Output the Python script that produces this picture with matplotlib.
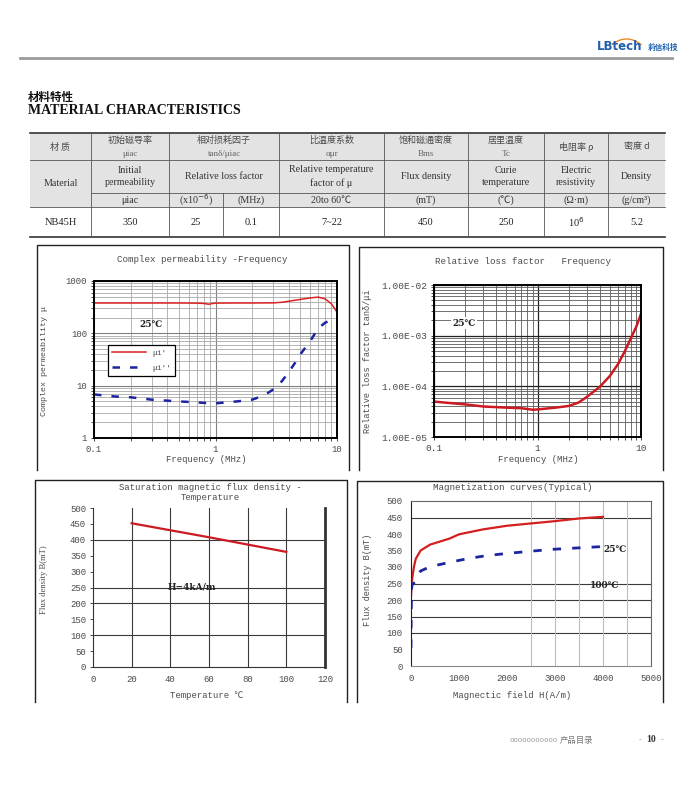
import matplotlib
matplotlib.use('Agg')
import matplotlib.pyplot as plt
from matplotlib.ticker import FixedLocator, FixedFormatter, NullFormatter, LogLocator
from matplotlib.lines import Line2D
import numpy as np

plt.rcParams['font.family'] = ['Liberation Serif', 'Noto Sans CJK SC', 'DejaVu Sans']

# ---------------- data ----------------
# table
table_cn = ['材 质', '初始磁导率', '相对损耗因子', '比温度系数', '饱和磁通密度', '居里温度', '电阻率 ρ', '密度 d']
table_sym = ['', 'μiac', 'tanδ/μiac', 'αμr', 'Bms', 'Tc', '', '']
table_en = ['Material', 'Initial\npermeability', 'Relative loss factor', 'Relative temperature\nfactor of μ',
            'Flux density', 'Curie\ntemperature', 'Electric\nresistivity', 'Density']
table_units = ['μiac', r'(x10$^{-6}$)', '(MHz)', '20to 60℃', '(mT)', '(℃)', '(Ω·m)', '(g/cm³)']
table_values = ['NB45H', '350', '25', '0.1', '7~22', '450', '250', r'10$^{6}$', '5.2']

# chart 1: complex permeability vs frequency
mu_real_freq = [0.1, 0.2, 0.3, 0.5, 0.7, 0.8, 0.88, 0.95, 1.0, 1.5, 2, 3, 3.5, 4, 5, 6, 7, 8, 9, 10]
mu_real = [380, 380, 380, 380, 378, 372, 360, 372, 378, 380, 380, 382, 392, 410, 445, 475, 492, 455, 365, 255]
mu_imag_freq = [0.1, 0.15, 0.2, 0.3, 0.5, 0.7, 0.9, 1.0, 1.5, 2.0, 2.5, 3.0, 3.5, 4, 4.5, 5, 6, 7, 8, 9, 10]
mu_imag = [6.8, 6.2, 6.0, 5.4, 5.0, 4.8, 4.6, 4.6, 5.0, 5.4, 6.5, 8.5, 12, 18, 27, 40, 70, 125, 160, 180, 185]
c1_yticks = [1, 10, 100, 1000]
c1_ylabels = ['1', '10', '100', '1000']
c1_xticks = [0.1, 1, 10]
c1_xlabels = ['0.1', '1', '10']

# chart 2: relative loss factor vs frequency
loss_freq = [0.1, 0.2, 0.3, 0.5, 0.7, 0.9, 1.0, 1.5, 2, 2.5, 3, 4, 5, 6, 7, 8, 9, 10]
loss = [5.0e-5, 4.4e-5, 4.0e-5, 3.8e-5, 3.7e-5, 3.45e-5, 3.5e-5, 3.8e-5, 4.1e-5, 4.8e-5, 6.2e-5,
        9.8e-5, 1.6e-4, 2.75e-4, 5.0e-4, 9.0e-4, 1.5e-3, 2.7e-3]
c2_yticks = [1e-5, 1e-4, 1e-3, 1e-2]
c2_ylabels = ['1.00E-05', '1.00E-04', '1.00E-03', '1.00E-02']

# chart 3: saturation flux density vs temperature
temp = [20, 40, 60, 80, 100]
bs = [452, 430, 408, 385, 362]
c3_xticks = [0, 20, 40, 60, 80, 100, 120]
c3_yticks = [0, 50, 100, 150, 200, 250, 300, 350, 400, 450, 500]
c3_hgrid = [100, 200, 250, 400]
c3_vgrid = [20, 40, 60, 80, 100]

# chart 4: magnetization curves
h_25 = [0, 15, 60, 100, 200, 400, 800, 1000, 1500, 2000, 2500, 3000, 3500, 4000]
b_25 = [210, 255, 300, 325, 350, 368, 386, 399, 414, 425, 432, 439, 447, 452]
h_100 = [0, 5, 10, 20, 80, 200, 400, 800, 1200, 1600, 2000, 2500, 3000, 3500, 4000]
b_100 = [55, 160, 230, 245, 255, 288, 301, 314, 326, 335, 341, 348, 354, 358, 362]
c4_xticks = [0, 1000, 2000, 3000, 4000, 5000]
c4_yticks = [0, 50, 100, 150, 200, 250, 300, 350, 400, 450, 500]
c4_hgrid = [100, 150, 200, 250, 450]
c4_vgrid = [2500, 3000, 3500, 4000, 4500]

# ---------------- figure ----------------
W, H = 700, 792
fig = plt.figure(figsize=(7, 7.92), dpi=100)
bg = fig.add_axes([0, 0, 1, 1], zorder=0)
bg.set_xlim(0, W)
bg.set_ylim(H, 0)
bg.axis('off')

MONO = ['Liberation Mono', 'Noto Sans CJK SC', 'DejaVu Sans']
CJK = ['Noto Sans CJK SC', 'DejaVu Sans']
RED = '#dd2222'
BLUE = '#1c24a0'
TXT = '#4a4a4a'


def ax_at(l, t, r, b):
    return fig.add_axes([l / W, 1 - b / H, (r - l) / W, (b - t) / H], zorder=2)


# header
bg.plot([20, 672], [58, 58], color='#9a9a9a', lw=2)
bg.text(597, 47, 'LBtech', color='#1f5fae', fontsize=8.5, fontweight='bold',
        family='DejaVu Sans', va='center', ha='left')
xs = np.linspace(612, 641, 30)
bg.plot(xs, 44.5 - 5.5 * (1 - ((xs - 626.5) / 14.5) ** 2), color='#e8892a', lw=1)
bg.text(648, 47.5, '莉信科技', color='#1f5fae', fontsize=5.5, fontweight='bold',
        family=CJK, va='center', ha='left')
bg.text(28, 97, '材料特性', fontsize=8.3, family=CJK, fontweight='bold', va='center', color='#111')
bg.text(28, 111, 'MATERIAL CHARACTERISTICS', fontsize=10, family='Liberation Serif',
        fontweight='bold', va='center', color='#111')

# table
cols = [30, 91, 169, 223, 279, 384, 468, 544, 608, 665]
rows = [133, 160, 193, 207, 237]
bg.add_patch(plt.Rectangle((cols[0], rows[0]), cols[-1] - cols[0], rows[3] - rows[0],
                           facecolor='#e3e3e3', edgecolor='none', zorder=0))
LC = '#555555'
bg.plot([cols[0], cols[-1]], [rows[0]] * 2, color='#333', lw=1.2)
bg.plot([cols[0], cols[-1]], [rows[1]] * 2, color=LC, lw=0.6)
bg.plot([cols[1], cols[-1]], [rows[2]] * 2, color=LC, lw=0.6)
bg.plot([cols[0], cols[-1]], [rows[3]] * 2, color=LC, lw=0.6)
bg.plot([cols[0], cols[-1]], [rows[4]] * 2, color='#333', lw=1.2)
for i, c in enumerate(cols[1:-1], start=1):
    if i == 3:
        bg.plot([c, c], [rows[2], rows[4]], color=LC, lw=0.6)
    else:
        bg.plot([c, c], [rows[0], rows[4]], color=LC, lw=0.6)

centers = [(cols[0] + cols[1]) / 2, (cols[1] + cols[2]) / 2, (cols[2] + cols[4]) / 2,
           (cols[4] + cols[5]) / 2, (cols[5] + cols[6]) / 2, (cols[6] + cols[7]) / 2,
           (cols[7] + cols[8]) / 2, (cols[8] + cols[9]) / 2]
for cx, cn, sym in zip(centers, table_cn, table_sym):
    if sym:
        bg.text(cx, 140.5, cn, ha='center', va='center', fontsize=6.5, family=CJK, color=TXT)
        bg.text(cx, 154, sym, ha='center', va='center', fontsize=6.5, color='#666')
    else:
        bg.text(cx, 147, cn, ha='center', va='center', fontsize=6.5, family=CJK, color=TXT)
for k, (cx, en) in enumerate(zip(centers, table_en)):
    y = 183.5 if k == 0 else 176.5
    bg.text(cx, y, en, ha='center', va='center', fontsize=7.2, color='#333', linespacing=1.45)
unit_x = [centers[1], (cols[2] + cols[3]) / 2, (cols[3] + cols[4]) / 2] + centers[3:]
for cx, u in zip(unit_x, table_units):
    bg.text(cx, 200.5, u, ha='center', va='center', fontsize=7.2, color='#333')
val_x = [centers[0]] + unit_x
for cx, v in zip(val_x, table_values):
    bg.text(cx, 222.5, v, ha='center', va='center', fontsize=7.5, color='#222')

# chart frames
for (l, t, r, b) in [(37, 245, 349, 470), (359, 247, 663, 470), (35, 480, 347, 702), (357, 481, 663, 702)]:
    bg.plot([l, l, r, r], [b, t, t, b], color='#222', lw=1)


def style_ticks(ax, size=6.5):
    ax.tick_params(which='both', length=2, width=0.6, colors='#333', labelcolor=TXT,
                   labelsize=size, pad=3)
    for lab in ax.get_xticklabels() + ax.get_yticklabels():
        lab.set_family(MONO)


# ---- chart 1 ----
ax1 = ax_at(94, 281, 337, 438)
ax1.set_xscale('log')
ax1.set_yscale('log')
ax1.set_xlim(0.1, 10)
ax1.set_ylim(1, 1000)
ax1.xaxis.set_minor_locator(LogLocator(base=10, subs=np.arange(2, 10)))
ax1.yaxis.set_minor_locator(LogLocator(base=10, subs=np.arange(2, 10)))
ax1.xaxis.set_minor_formatter(NullFormatter())
ax1.yaxis.set_minor_formatter(NullFormatter())
ax1.grid(which='major', color='#808080', lw=0.8)
ax1.grid(which='minor', color='#a8a8a8', lw=0.6)
ax1.set_xticks(c1_xticks)
ax1.set_xticklabels(c1_xlabels)
ax1.set_yticks(c1_yticks)
ax1.set_yticklabels(c1_ylabels)
ax1.tick_params(which='minor', length=0)
for s in ax1.spines.values():
    s.set_color('#000')
    s.set_linewidth(1.4)
ax1.plot(mu_real_freq, mu_real, color=RED, lw=1.1, label="μi'")
ax1.plot(mu_imag_freq, mu_imag, color=BLUE, lw=1.8, dashes=(3, 4), label="μi''")
style_ticks(ax1)
leg = ax1.legend(loc='upper left', bbox_to_anchor=((104 - 94) / 243, (438 - 341) / 157),
                 fancybox=False, edgecolor='#000', framealpha=1, handlelength=4.2,
                 borderpad=0.5, labelspacing=0.9, prop={'family': MONO, 'size': 5.8})
leg.get_frame().set_linewidth(0.9)
for t in leg.get_texts():
    t.set_color(TXT)
ax1.text(0.185, 0.72, '25℃', transform=ax1.transAxes, fontsize=6.5, fontweight='bold',
         family=['DejaVu Serif', 'Noto Sans CJK SC'], color='#222', va='center')
bg.text(202, 259, 'Complex permeability -Frequency', ha='center', va='center',
        fontsize=6.6, family=MONO, color=TXT)
bg.text(206, 460, 'Frequency (MHz)', ha='center', va='center', fontsize=6.4, family=MONO, color=TXT)
bg.text(45, 361, 'Complex permeability μ', ha='center', va='center', rotation=90,
        fontsize=6.0, family=MONO, color=TXT)

# ---- chart 2 ----
ax2 = ax_at(434, 285, 641, 437)
ax2.set_xscale('log')
ax2.set_yscale('log')
ax2.set_xlim(0.1, 10)
ax2.set_ylim(1e-5, 1e-2)
ax2.xaxis.set_minor_locator(LogLocator(base=10, subs=np.arange(2, 10)))
ax2.yaxis.set_minor_locator(LogLocator(base=10, subs=np.arange(2, 10)))
ax2.xaxis.set_minor_formatter(NullFormatter())
ax2.yaxis.set_minor_formatter(NullFormatter())
ax2.grid(which='major', color='#222', lw=0.9)
ax2.grid(which='minor', color='#5a5a5a', lw=0.6)
ax2.set_xticks(c1_xticks)
ax2.set_xticklabels(c1_xlabels)
ax2.set_yticks(c2_yticks)
ax2.set_yticklabels(c2_ylabels)
ax2.tick_params(which='minor', length=0)
for s in ax2.spines.values():
    s.set_color('#000')
    s.set_linewidth(1.4)
ax2.plot(loss_freq, loss, color='#cc1a22', lw=1.8)
style_ticks(ax2, 6.8)
ax2.text(0.09, 0.75, '25℃', transform=ax2.transAxes, fontsize=6.5, fontweight='bold',
         family=['DejaVu Serif', 'Noto Sans CJK SC'], color='#222', va='center',
         bbox=dict(facecolor='white', edgecolor='none', pad=1))
bg.text(523, 262, 'Relative loss factor   Frequency', ha='center', va='center',
        fontsize=6.6, family=MONO, color=TXT)
bg.text(538, 459, 'Frequency (MHz)', ha='center', va='center', fontsize=6.4, family=MONO, color=TXT)
bg.text(368, 361, 'Relative loss factor tanδ/μi', ha='center', va='center', rotation=90,
        fontsize=6.2, family=MONO, color=TXT)

# ---- chart 3 ----
ax3 = ax_at(93, 508, 325, 667)
ax3.set_xlim(0, 120)
ax3.set_ylim(0, 500)
ax3.xaxis.set_major_locator(FixedLocator(c3_xticks))
ax3.yaxis.set_major_locator(FixedLocator(c3_yticks))
for v in c3_hgrid:
    ax3.axhline(v, color='#3a3a3a', lw=0.8)
for v in c3_vgrid:
    ax3.axvline(v, color='#3a3a3a', lw=0.8)
ax3.spines['top'].set_visible(False)
ax3.spines['right'].set_color('#333')
ax3.spines['right'].set_linewidth(2)
ax3.spines['left'].set_color('#333')
ax3.spines['bottom'].set_color('#333')
ax3.plot(temp, bs, color='#cc1a22', lw=1.6)
style_ticks(ax3)
ax3.tick_params(axis='x', length=0, pad=6)
ax3.text(0.425, 0.5, 'H=4kA/m', transform=ax3.transAxes, fontsize=6.5, fontweight='bold',
         family='DejaVu Serif', color='#222', ha='center', va='center')
bg.text(210, 487, 'Saturation magnetic flux density -', ha='center', va='center',
        fontsize=6.4, family=MONO, color=TXT)
bg.text(210, 497, 'Temperature', ha='center', va='center', fontsize=6.4, family=MONO, color=TXT)
bg.text(207, 695, 'Temperature ℃', ha='center', va='center', fontsize=6.4, family=MONO, color=TXT)
bg.text(44, 580, 'Flux density B(mT)', ha='center', va='center', rotation=90,
        fontsize=6.2, color=TXT)

# ---- chart 4 ----
ax4 = ax_at(411, 501, 651, 666)
ax4.set_xlim(0, 5000)
ax4.set_ylim(0, 500)
ax4.xaxis.set_major_locator(FixedLocator(c4_xticks))
ax4.yaxis.set_major_locator(FixedLocator(c4_yticks))
for v in c4_hgrid:
    ax4.axhline(v, color='#3a3a3a', lw=0.8)
for v in c4_vgrid:
    ax4.axvline(v, color='#bdbdbd', lw=0.8)
ax4.spines['top'].set_color('#666')
ax4.spines['right'].set_color('#666')
ax4.spines['top'].set_linewidth(0.8)
ax4.spines['right'].set_linewidth(0.8)
ax4.spines['left'].set_color('#222')
ax4.spines['bottom'].set_color('#888')
ax4.plot(h_25, b_25, color='#d41f1f', lw=1.6)
ax4.plot(h_100, b_100, color=BLUE, lw=2.0, dashes=(3, 4))
style_ticks(ax4)
ax4.tick_params(length=0, pad=6)
ax4.text(0.8, 0.705, '25℃', transform=ax4.transAxes, fontsize=6.5, fontweight='bold',
         family=['DejaVu Serif', 'Noto Sans CJK SC'], color='#222', va='center')
ax4.text(0.805, 0.49, '100℃', transform=ax4.transAxes, fontsize=6.5, fontweight='bold',
         family=['DejaVu Serif', 'Noto Sans CJK SC'], color='#222', va='center', ha='center')
bg.text(513, 488, 'Magnetization curves(Typical)', ha='center', va='center',
        fontsize=6.6, family=MONO, color=TXT)
bg.text(512, 695, 'Magnectic field H(A/m)', ha='center', va='center', fontsize=6.4, family=MONO, color=TXT)
bg.text(368, 580, 'Flux density B(mT)', ha='center', va='center', rotation=90,
        fontsize=6.2, family=MONO, color=TXT)

# footer
bg.text(510, 740, 'ooooooooooo', ha='left', va='center', fontsize=5.3, family=MONO, color='#999')
bg.text(560, 740, '产品目录', ha='left', va='center', fontsize=6, family=CJK, color='#777')
bg.text(640, 740, '-', ha='center', va='center', fontsize=6, color='#999')
bg.text(651, 740, '10', ha='center', va='center', fontsize=7, fontweight='bold', color='#333')
bg.text(662, 740, '-', ha='center', va='center', fontsize=6, color='#999')

fig.savefig('out.png', dpi=100, facecolor='white')
